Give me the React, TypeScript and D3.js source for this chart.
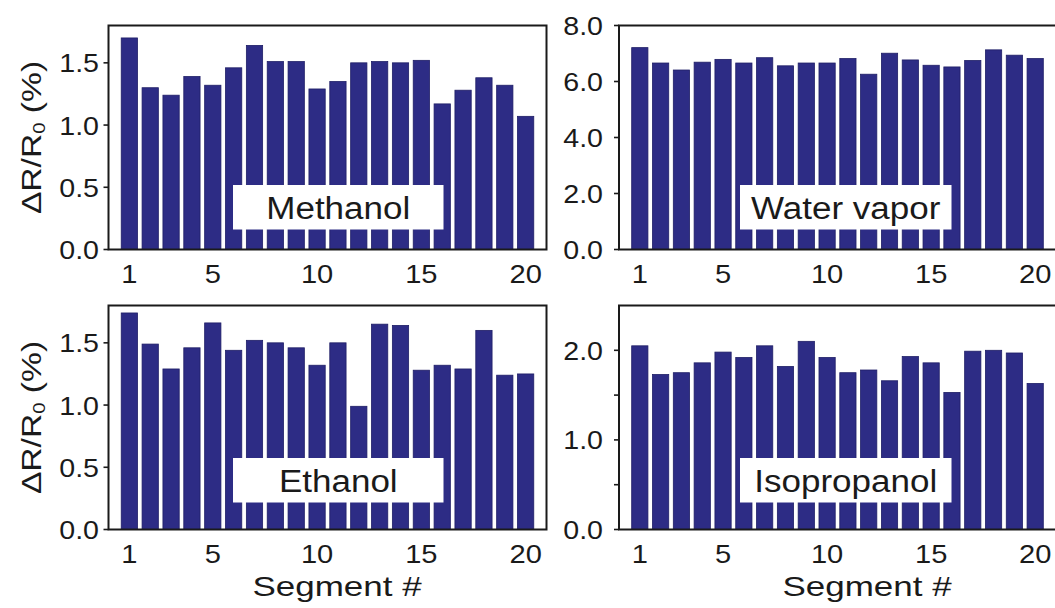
import { useEffect, useRef } from 'react';
import * as d3 from 'd3';

// segment numbers and per-segment response (ΔR/R0, %)
const segments = [1, 2, 3, 4, 5, 6, 7, 8, 9, 10, 11, 12, 13, 14, 15, 16, 17, 18, 19, 20];
const methanol = [1.70, 1.30, 1.24, 1.39, 1.32, 1.46, 1.64, 1.51, 1.51, 1.29, 1.35, 1.50, 1.51, 1.50, 1.52, 1.17, 1.28, 1.38, 1.32, 1.07];
const waterVapor = [7.21, 6.66, 6.41, 6.69, 6.79, 6.66, 6.85, 6.56, 6.66, 6.66, 6.82, 6.26, 7.01, 6.77, 6.58, 6.52, 6.75, 7.13, 6.94, 6.82];
const ethanol = [1.74, 1.49, 1.29, 1.46, 1.66, 1.44, 1.52, 1.50, 1.46, 1.32, 1.50, 0.99, 1.65, 1.64, 1.28, 1.32, 1.29, 1.60, 1.24, 1.25];
const isopropanol = [2.05, 1.73, 1.75, 1.86, 1.98, 1.92, 2.05, 1.82, 2.10, 1.92, 1.75, 1.78, 1.66, 1.93, 1.86, 1.53, 1.99, 2.00, 1.97, 1.63];

const xTickLabels = [1, 5, 10, 15, 20];
const smallTicks = [0, 0.5, 1.0, 1.5];
const waterTicks = [0, 2, 4, 6, 8];
const isoTicks = [0, 1, 2];
const isoMinorTicks = [0.5, 1.5];

const W = 1055;
const H = 608;
const FONT = '"Liberation Sans", Arial, Helvetica, sans-serif';
const BAR = '#2d2c85';
const INK = '#1a1a1a';

export default function App() {
    const svgRef = useRef(null);

    useEffect(() => {
        const svg = d3.select(svgRef.current);
        svg.selectAll('*').remove();

        const panels = [
            { name: 'Methanol', values: methanol, x0: 108.5, x1: 546.5, y0: 249.5, y1: 25.5, ymax: 1.8, ticks: smallTicks, minor: [], labelEnd: 99, box: [233, 443.5, 185, 229.5], yTitle: true, xTitle: null },
            { name: 'Water vapor', values: waterVapor, x0: 619, x1: 1056, y0: 249.5, y1: 25.5, ymax: 8, ticks: waterTicks, minor: [], labelEnd: 603, box: [740, 951.5, 185, 229.5], yTitle: false, xTitle: null },
            { name: 'Ethanol', values: ethanol, x0: 108.5, x1: 546.5, y0: 529.5, y1: 305.5, ymax: 1.8, ticks: smallTicks, minor: [], labelEnd: 99, box: [233, 443.5, 458, 502.5], yTitle: true, xTitle: 337 },
            { name: 'Isopropanol', values: isopropanol, x0: 619, x1: 1056, y0: 529.5, y1: 305.5, ymax: 2.5, ticks: isoTicks, minor: isoMinorTicks, labelEnd: 603, box: [740, 951.5, 458, 502.5], yTitle: false, xTitle: 867 },
        ];

        // the original type is set wider than Arial, so stretch it a bit
        const stretchText = (g, x, y, str, size, sx, anchor) => {
            return g.append('text')
                .attr('transform', `translate(${x},${y}) scale(${sx},1)`)
                .attr('text-anchor', anchor)
                .attr('font-family', FONT)
                .attr('font-size', size)
                .attr('fill', INK)
                .text(str);
        };

        panels.forEach(p => {
            const g = svg.append('g');
            const x = d3.scaleLinear().domain([0, 21]).range([p.x0, p.x1]);
            const y = d3.scaleLinear().domain([0, p.ymax]).range([p.y0, p.y1]);
            const bw = (x(1) - x(0)) * 0.78;

            g.selectAll('.bar')
                .data(p.values)
                .enter()
                .append('rect')
                .attr('class', 'bar')
                .attr('x', (d, i) => x(segments[i]) - bw / 2)
                .attr('y', d => y(d))
                .attr('width', bw)
                .attr('height', d => y(0) - y(d))
                .attr('fill', BAR)
                .attr('stroke', '#1f1e66')
                .attr('stroke-width', 0.8);

            // label box
            const [bx0, bx1, by0, by1] = p.box;
            g.append('rect')
                .attr('x', bx0)
                .attr('y', by0)
                .attr('width', bx1 - bx0)
                .attr('height', by1 - by0)
                .attr('fill', '#fff');
            stretchText(g, (bx0 + bx1) / 2, (by0 + by1) / 2 + 12, p.name, 31, 1.13, 'middle');

            // frame
            g.append('rect')
                .attr('x', p.x0)
                .attr('y', p.y1)
                .attr('width', p.x1 - p.x0)
                .attr('height', p.y0 - p.y1)
                .attr('fill', 'none')
                .attr('stroke', INK)
                .attr('stroke-width', 2);

            // y ticks
            g.selectAll('.ytick')
                .data(p.ticks.concat(p.minor))
                .enter()
                .append('line')
                .attr('x1', p.x0 - 5)
                .attr('x2', p.x0)
                .attr('y1', d => y(d))
                .attr('y2', d => y(d))
                .attr('stroke', INK)
                .attr('stroke-width', 1.6);

            p.ticks.forEach(t => {
                stretchText(g, p.labelEnd, y(t) + 9.5, d3.format('.1f')(t), 26, 1.1, 'end');
            });

            xTickLabels.forEach(t => {
                stretchText(g, x(t), p.y0 + 33, String(t), 26, 1.12, 'middle');
            });

            if (p.yTitle) {
                const mid = (p.y0 + p.y1) / 2;
                const t = g.append('text')
                    .attr('transform', `translate(41,${mid}) rotate(-90) scale(1.2,1)`)
                    .attr('text-anchor', 'middle')
                    .attr('font-family', FONT)
                    .attr('font-size', 28)
                    .attr('fill', INK);
                t.append('tspan').text('ΔR/R');
                t.append('tspan').attr('font-size', 17).attr('dy', 4).text('0');
                t.append('tspan').attr('dy', -4).text(' (%)');
            }

            if (p.xTitle) {
                stretchText(g, p.xTitle, 596, 'Segment #', 28, 1.25, 'middle');
            }
        });
    }, []);

    return (
        <div style={{ position: 'fixed', left: 0, top: 0, width: W, height: H, background: '#fff' }}>
            <svg ref={svgRef} width={W} height={H} style={{ display: 'block' }}></svg>
        </div>
    );
}
